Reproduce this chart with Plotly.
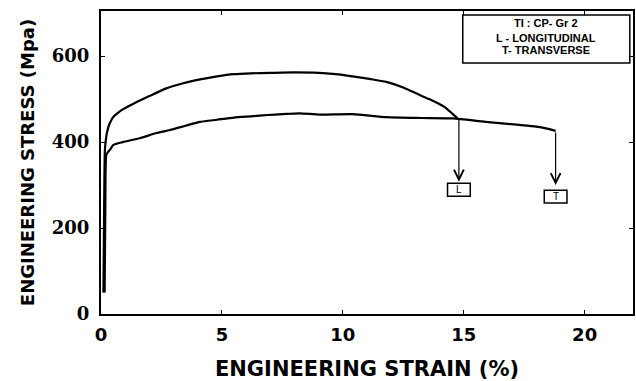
import plotly.graph_objects as go

# Longitudinal (L) curve
strain_L = [0.1, 0.13, 0.16, 0.2, 0.25, 0.35, 0.5, 0.7, 0.9, 1.3, 2.0, 2.7, 3.4, 4.1, 4.8, 5.5, 6.2, 7.0, 8.0, 9.0,
            9.7, 10.4, 11.1, 11.8, 12.5, 13.2, 13.7, 14.2, 14.55, 14.75]
stress_L = [50, 250, 380, 405, 423, 442, 458, 468, 476, 488, 507, 525, 537, 546, 553, 558, 560, 561, 562, 561,
            558, 553, 547, 540, 527, 509, 497, 482, 465, 455]

# Transverse (T) curve
strain_T = [0.15, 0.18, 0.22, 0.3, 0.37, 0.5, 0.9, 1.6, 2.3, 2.85, 3.5, 4.1, 4.8, 5.5, 6.2, 6.9, 7.5, 8.2, 9.05,
            10.4, 11.8, 13.2, 14.55, 15.9, 17.3, 18.0, 18.4, 18.8]
stress_T = [50, 250, 370, 378, 382, 393, 400, 409, 421, 428, 438, 447, 452, 457, 460, 463, 465, 467, 464,
            465, 458, 456, 455, 447, 440, 436, 432, 426]

# Fracture markers: label, strain, arrow start stress, arrow tip stress, box centre stress
markers = ["L", "T"]
marker_strain = [14.8, 18.8]
marker_start = [455, 426]
marker_tip = [308, 300]
marker_box = [289, 273]

x_ticks = [0, 5, 10, 15, 20]
y_ticks = [0, 200, 400, 600]
legend_lines = ["TI : CP- Gr 2", "L - LONGITUDINAL", "T- TRANSVERSE"]
legend_line_y = [0.960, 0.911, 0.871]

fig = go.Figure()
fig.add_trace(go.Scatter(x=strain_L, y=stress_L, mode="lines", line_shape="spline",
                         line=dict(color="black", width=2.2, smoothing=0.6), showlegend=False))
fig.add_trace(go.Scatter(x=strain_T, y=stress_T, mode="lines", line_shape="spline",
                         line=dict(color="black", width=2.2, smoothing=0.6), showlegend=False))

for lab, sx, s0, s1, sb in zip(markers, marker_strain, marker_start, marker_tip, marker_box):
    fig.add_annotation(x=sx, y=s1, ax=sx, ay=s0, xref="x", yref="y", axref="x", ayref="y",
                       showarrow=True, arrowhead=5, arrowsize=1.6, arrowwidth=1.2,
                       arrowcolor="black", text="")
    fig.add_shape(type="rect", xref="x", yref="y", x0=sx - 0.47, x1=sx + 0.47, y0=sb - 15, y1=sb + 15,
                  line=dict(color="black", width=1.5), fillcolor="white")
    fig.add_annotation(x=sx, y=sb, text=lab, showarrow=False, xanchor="center", yanchor="middle",
                       font=dict(family="Liberation Sans", size=10, color="black"))

fig.add_shape(type="rect", xref="paper", yref="paper", x0=0.680, x1=0.994, y0=0.828, y1=0.987,
              line=dict(color="black", width=1.5), fillcolor="white")
for txt, ly in zip(legend_lines, legend_line_y):
    fig.add_annotation(x=0.836, y=ly, xref="paper", yref="paper", text="<b>%s</b>" % txt,
                       xanchor="center", yanchor="middle",
                       showarrow=False, font=dict(family="Liberation Sans", size=11, color="black"))

axis_common = dict(showline=True, linecolor="black", linewidth=2, mirror="ticks",
                   ticks="inside", ticklen=4, tickcolor="black", showgrid=False, zeroline=False,
                   automargin=False)

fig.update_xaxes(range=[0, 22], tickvals=x_ticks, ticklabelstandoff=3,
                 tickfont=dict(family="DejaVu Sans", size=18, color="black", weight="bold"),
                 title=dict(text="<b>ENGINEERING STRAIN (%)</b>", standoff=20,
                            font=dict(family="DejaVu Sans", size=21, color="black")),
                 **axis_common)
fig.update_yaxes(range=[0, 705], tickvals=y_ticks, ticklabelstandoff=6,
                 tickfont=dict(family="DejaVu Serif", size=18, color="black", weight="bold"),
                 title=dict(text="<b>ENGINEERING STRESS (Mpa)</b>", standoff=13,
                            font=dict(family="DejaVu Sans", size=18, color="black")),
                 **axis_common)

fig.update_layout(width=636, height=381, margin=dict(l=101, r=3, t=11, b=67),
                  plot_bgcolor="white", paper_bgcolor="white")

fig.write_html("out.html", config={"displayModeBar": False},
               post_script="document.body.style.margin='0';")
